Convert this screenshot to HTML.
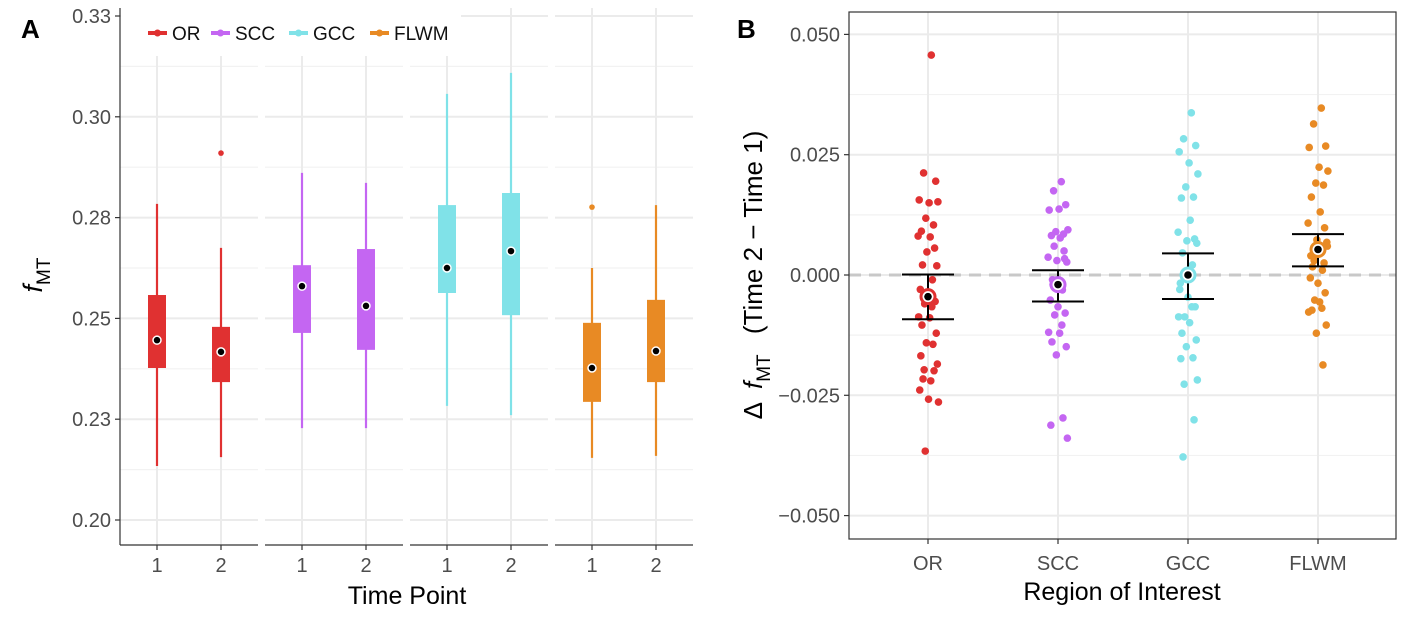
<!DOCTYPE html>
<html><head><meta charset="utf-8"><style>
body{margin:0;background:#fff;}
svg{display:block;font-family:"Liberation Sans",sans-serif;}
</style></head><body>
<svg id="chart" width="1406" height="625" viewBox="0 0 1406 625" xmlns="http://www.w3.org/2000/svg">
<g id="pa"></g>
<g id="pb"></g>
</svg>
<script>
// ---------- data ----------
const regions = ["OR","SCC","GCC","FLWM"];
const colors = ["#E03131","#C466F2","#80E2E8","#E88A24"];
const timePoints = ["1","2"];
// box stats per region: [time1, time2] as [lowWhisker, q1, median, q3, highWhisker]
const boxOR   = [[0.2134,0.2377,0.2446,0.2558,0.2784],[0.2156,0.2342,0.2417,0.2479,0.2675]];
const boxSCC  = [[0.2228,0.2464,0.2580,0.2632,0.2861],[0.2228,0.2422,0.2531,0.2672,0.2836]];
const boxGCC  = [[0.2283,0.2563,0.2625,0.2781,0.3057],[0.2260,0.2508,0.2667,0.2811,0.3109]];
const boxFLWM = [[0.2154,0.2293,0.2377,0.2489,0.2625],[0.2159,0.2342,0.2419,0.2546,0.2781]];
const outliersOR = [[],[0.2910]];
const outliersSCC = [[],[]];
const outliersGCC = [[],[]];
const outliersFLWM = [[0.2776],[]];
const yTicksA = [0.2,0.225,0.25,0.275,0.3,0.325];
const yTickLabelsA = ["0.20","0.23","0.25","0.28","0.30","0.33"];

const deltaOR = [0.0457,0.0212,0.0195,0.0156,0.015,0.0152,0.0118,0.0104,0.0091,0.0079,0.0081,0.0056,0.0048,0.0019,0.0021,-0.001,-0.003,-0.004,-0.0055,-0.006,-0.0066,-0.0087,-0.0089,-0.0104,-0.0121,-0.0141,-0.0144,-0.0168,-0.0185,-0.0197,-0.0199,-0.0216,-0.022,-0.0239,-0.0258,-0.0264,-0.0366];
const deltaSCC = [0.0194,0.0175,0.0146,0.0135,0.0137,0.0094,0.009,0.0085,0.0082,0.0077,0.0037,0.0034,0.003,0.0027,-0.001,-0.0031,-0.0052,-0.0066,-0.0079,-0.0083,-0.0104,-0.0119,-0.0121,-0.0139,-0.0149,-0.0166,-0.0297,-0.0312,-0.0339,0.006,0.005,-0.002];
const deltaGCC = [0.0337,0.0283,0.0269,0.0256,0.0233,0.021,0.0183,0.0162,0.016,0.0114,0.0089,0.0075,0.0071,0.0066,0.0046,0.0021,-0.0017,-0.0046,-0.0066,-0.0087,-0.0066,-0.0087,-0.0099,-0.0121,-0.0135,-0.0149,-0.0172,-0.0174,-0.0218,-0.0227,-0.0301,-0.0378,0.0005,-0.003];
const deltaFLWM = [0.0347,0.0314,0.0268,0.0265,0.0224,0.0216,0.0191,0.0187,0.0162,0.0131,0.0108,0.0098,0.0073,0.0068,0.0017,0.001,-0.0006,-0.0017,-0.0037,-0.0052,-0.0069,-0.0077,-0.0056,-0.0073,-0.0104,-0.0121,-0.0187,0.004,0.006,0.003,0.0025];
const meanDelta = [-0.0045,-0.002,0.0,0.0053];
const ciLow = [-0.0092,-0.0055,-0.005,0.0018];
const ciHigh = [0.0001,0.001,0.0045,0.0085];
const yTicksB = [-0.05,-0.025,0,0.025,0.05];
const yTickLabelsB = ["\u22120.050","\u22120.025","0.000","0.025","0.050"];
const jitter = [0.3,-0.4,0.7,-0.8,0.1,0.9,-0.2,0.5,-0.6,0.2,-0.9,0.6,-0.1,0.8,-0.5,0.4,-0.7,0.0,0.65,-0.3,0.35,-0.85,0.15,-0.55,0.75,-0.15,0.45,-0.65,0.85,-0.35,0.55,-0.45,0.25,-0.75,0.05,0.95,-0.25];

const NS="http://www.w3.org/2000/svg";
function mk(parent,tag,attrs,text){const e=document.createElementNS(NS,tag);for(const k in attrs)e.setAttribute(k,attrs[k]);if(text!==undefined)e.textContent=text;parent.appendChild(e);return e;}

// ---------- Panel A ----------
const pa=document.getElementById('pa');
const yA = v => 520-(v-0.2)/0.025*100.8;
const facetX=[120,265,410,555], facetW=138;
const xA=(f,t)=>facetX[f]+37+t*64;
const boxes=[boxOR,boxSCC,boxGCC,boxFLWM];
const outs=[outliersOR,outliersSCC,outliersGCC,outliersFLWM];
for(let f=0;f<4;f++){
  const g=mk(pa,'g',{});
  
  
  for(let i=0;i<yTicksA.length;i++){
    const l=mk(g,'line',{x1:facetX[f],x2:facetX[f]+facetW,y1:yA(yTicksA[i]),y2:yA(yTicksA[i]),stroke:'#ebebeb','stroke-width':2});
     
    if(i<yTicksA.length-1){const m=mk(g,'line',{x1:facetX[f],x2:facetX[f]+facetW,y1:yA(yTicksA[i]+0.0125),y2:yA(yTicksA[i]+0.0125),stroke:'#f2f2f2','stroke-width':1.2});
     }
  }
  for(let t=0;t<2;t++){const l=mk(g,'line',{x1:xA(f,t),x2:xA(f,t),y1:8,y2:545,stroke:'#ebebeb','stroke-width':2});
     }
  const ax=mk(g,'line',{x1:facetX[f],x2:facetX[f]+facetW,y1:545,y2:545,stroke:'#333','stroke-width':1.2});
   
  for(let t=0;t<2;t++){
    const s=boxes[f][t], x=xA(f,t), c=colors[f];
    mk(g,'line',{x1:x,x2:x,y1:545,y2:550,stroke:'#333','stroke-width':1.2});
    const tl=mk(g,'text',{x:x,y:572,'text-anchor':'middle','font-size':20,fill:'#4d4d4d'},timePoints[t]);
     
    const w=mk(g,'line',{x1:x,x2:x,y1:yA(s[0]),y2:yA(s[4]),stroke:c,'stroke-width':2.2});
     
    const b=mk(g,'rect',{x:x-9,y:yA(s[3]),width:18,height:yA(s[1])-yA(s[3]),fill:c});
     
    const md=mk(g,'circle',{cx:x,cy:yA(s[2]),r:4,fill:'#000',stroke:'#fff','stroke-width':1.5});
     
    for(const o of outs[f][t]){const oc=mk(g,'circle',{cx:x,cy:yA(o),r:2.8,fill:c});
       }
  }
}
// legend background
const lg=mk(pa,'g',{});
 
mk(lg,'rect',{x:121,y:6,width:340,height:50,fill:'#fff'});
const legX=[148,211,289,370];
for(let i=0;i<4;i++){
  const e=mk(lg,'g',{});
   
  mk(e,'line',{x1:legX[i],x2:legX[i]+19,y1:33,y2:33,stroke:colors[i],'stroke-width':4});
  mk(e,'circle',{cx:legX[i]+9.5,cy:33,r:3.5,fill:colors[i]});
  mk(e,'text',{x:legX[i]+24,y:40,'font-size':19,fill:'#111'},regions[i]);
}
// y axis A
const ya=mk(pa,'g',{});
 
mk(ya,'line',{x1:120,x2:120,y1:8,y2:545,stroke:'#333','stroke-width':1.2});
for(let i=0;i<yTicksA.length;i++){
  mk(ya,'line',{x1:115,x2:120,y1:yA(yTicksA[i]),y2:yA(yTicksA[i]),stroke:'#333','stroke-width':1.2});
  const t=mk(ya,'text',{x:111,y:yA(yTicksA[i])+7,'text-anchor':'end','font-size':20,fill:'#4d4d4d'},yTickLabelsA[i]);
   
}
const yta=mk(pa,'text',{transform:'translate(42,275) rotate(-90)','text-anchor':'middle','font-size':27,fill:'#000'});
 
yta.innerHTML='<tspan font-style="italic">f</tspan><tspan font-size="19" dy="8">MT</tspan>';
const xta=mk(pa,'text',{x:407,y:604,'text-anchor':'middle','font-size':25,fill:'#000'},'Time Point');
 
const la=mk(pa,'text',{x:21,y:38,'font-size':26,'font-weight':'bold',fill:'#000'},'A');
 

// ---------- Panel B ----------
const pb=document.getElementById('pb');
const L=849,R=1396,T=12,B=539;
const yB=v=>275-v*4812;
const xB=i=>928+i*130;
mk(pb,'rect',{x:L,y:T,width:R-L,height:B-T,fill:'#fff'});
for(let i=0;i<yTicksB.length;i++){
  const l=mk(pb,'line',{x1:L,x2:R,y1:yB(yTicksB[i]),y2:yB(yTicksB[i]),stroke:'#ebebeb','stroke-width':2});
   
  if(i<yTicksB.length-1){const m=mk(pb,'line',{x1:L,x2:R,y1:yB(yTicksB[i]+0.0125),y2:yB(yTicksB[i]+0.0125),stroke:'#f2f2f2','stroke-width':1.2});
   }
}
for(let i=0;i<4;i++){const l=mk(pb,'line',{x1:xB(i),x2:xB(i),y1:T,y2:B,stroke:'#ebebeb','stroke-width':2});
   }
const zl=mk(pb,'line',{x1:L,x2:R,y1:yB(0),y2:yB(0),stroke:'#c8c8c8','stroke-width':3,'stroke-dasharray':'12,8'});
 
const deltas=[deltaOR,deltaSCC,deltaGCC,deltaFLWM];
for(let i=0;i<4;i++){
  const g=mk(pb,'g',{});
   
  deltas[i].forEach((v,k)=>{
    const p=mk(g,'circle',{cx:xB(i)+jitter[k%jitter.length]*11,cy:yB(v),r:3.8,fill:colors[i]});
     
  });
}
for(let i=0;i<4;i++){
  const g=mk(pb,'g',{});
   
  const x=xB(i);
  mk(g,'line',{x1:x,x2:x,y1:yB(ciLow[i]),y2:yB(ciHigh[i]),stroke:'#000','stroke-width':2});
  mk(g,'line',{x1:x-26,x2:x+26,y1:yB(ciLow[i]),y2:yB(ciLow[i]),stroke:'#000','stroke-width':2});
  mk(g,'line',{x1:x-26,x2:x+26,y1:yB(ciHigh[i]),y2:yB(ciHigh[i]),stroke:'#000','stroke-width':2});
  mk(g,'circle',{cx:x,cy:yB(meanDelta[i]),r:7,fill:'#fff',stroke:colors[i],'stroke-width':3});
  mk(g,'circle',{cx:x,cy:yB(meanDelta[i]),r:3.8,fill:'#000'});
}
const fr=mk(pb,'rect',{x:L,y:T,width:R-L,height:B-T,fill:'none',stroke:'#333','stroke-width':1.2});
 
for(let i=0;i<yTicksB.length;i++){
  mk(pb,'line',{x1:L-5,x2:L,y1:yB(yTicksB[i]),y2:yB(yTicksB[i]),stroke:'#333','stroke-width':1.2});
  const t=mk(pb,'text',{x:L-9,y:yB(yTicksB[i])+7,'text-anchor':'end','font-size':20,fill:'#4d4d4d'},yTickLabelsB[i]);
   
}
for(let i=0;i<4;i++){
  mk(pb,'line',{x1:xB(i),x2:xB(i),y1:B,y2:B+5,stroke:'#333','stroke-width':1.2});
  const t=mk(pb,'text',{x:xB(i),y:570,'text-anchor':'middle','font-size':20,fill:'#4d4d4d'},regions[i]);
   
}
const xtb=mk(pb,'text',{x:1122,y:600,'text-anchor':'middle','font-size':25,fill:'#000'},'Region of Interest');
 
const ytb=mk(pb,'text',{transform:'translate(762,275) rotate(-90)','text-anchor':'middle','font-size':26,fill:'#000'});
 
ytb.innerHTML='\u0394\u2002<tspan font-style="italic">f</tspan><tspan font-size="19" dy="8">MT</tspan><tspan dy="-8">\u2002 (Time 2 \u2212 Time 1)</tspan>';
const lb=mk(pb,'text',{x:737,y:38,'font-size':26,'font-weight':'bold',fill:'#000'},'B');
 
</script>
</body></html>
